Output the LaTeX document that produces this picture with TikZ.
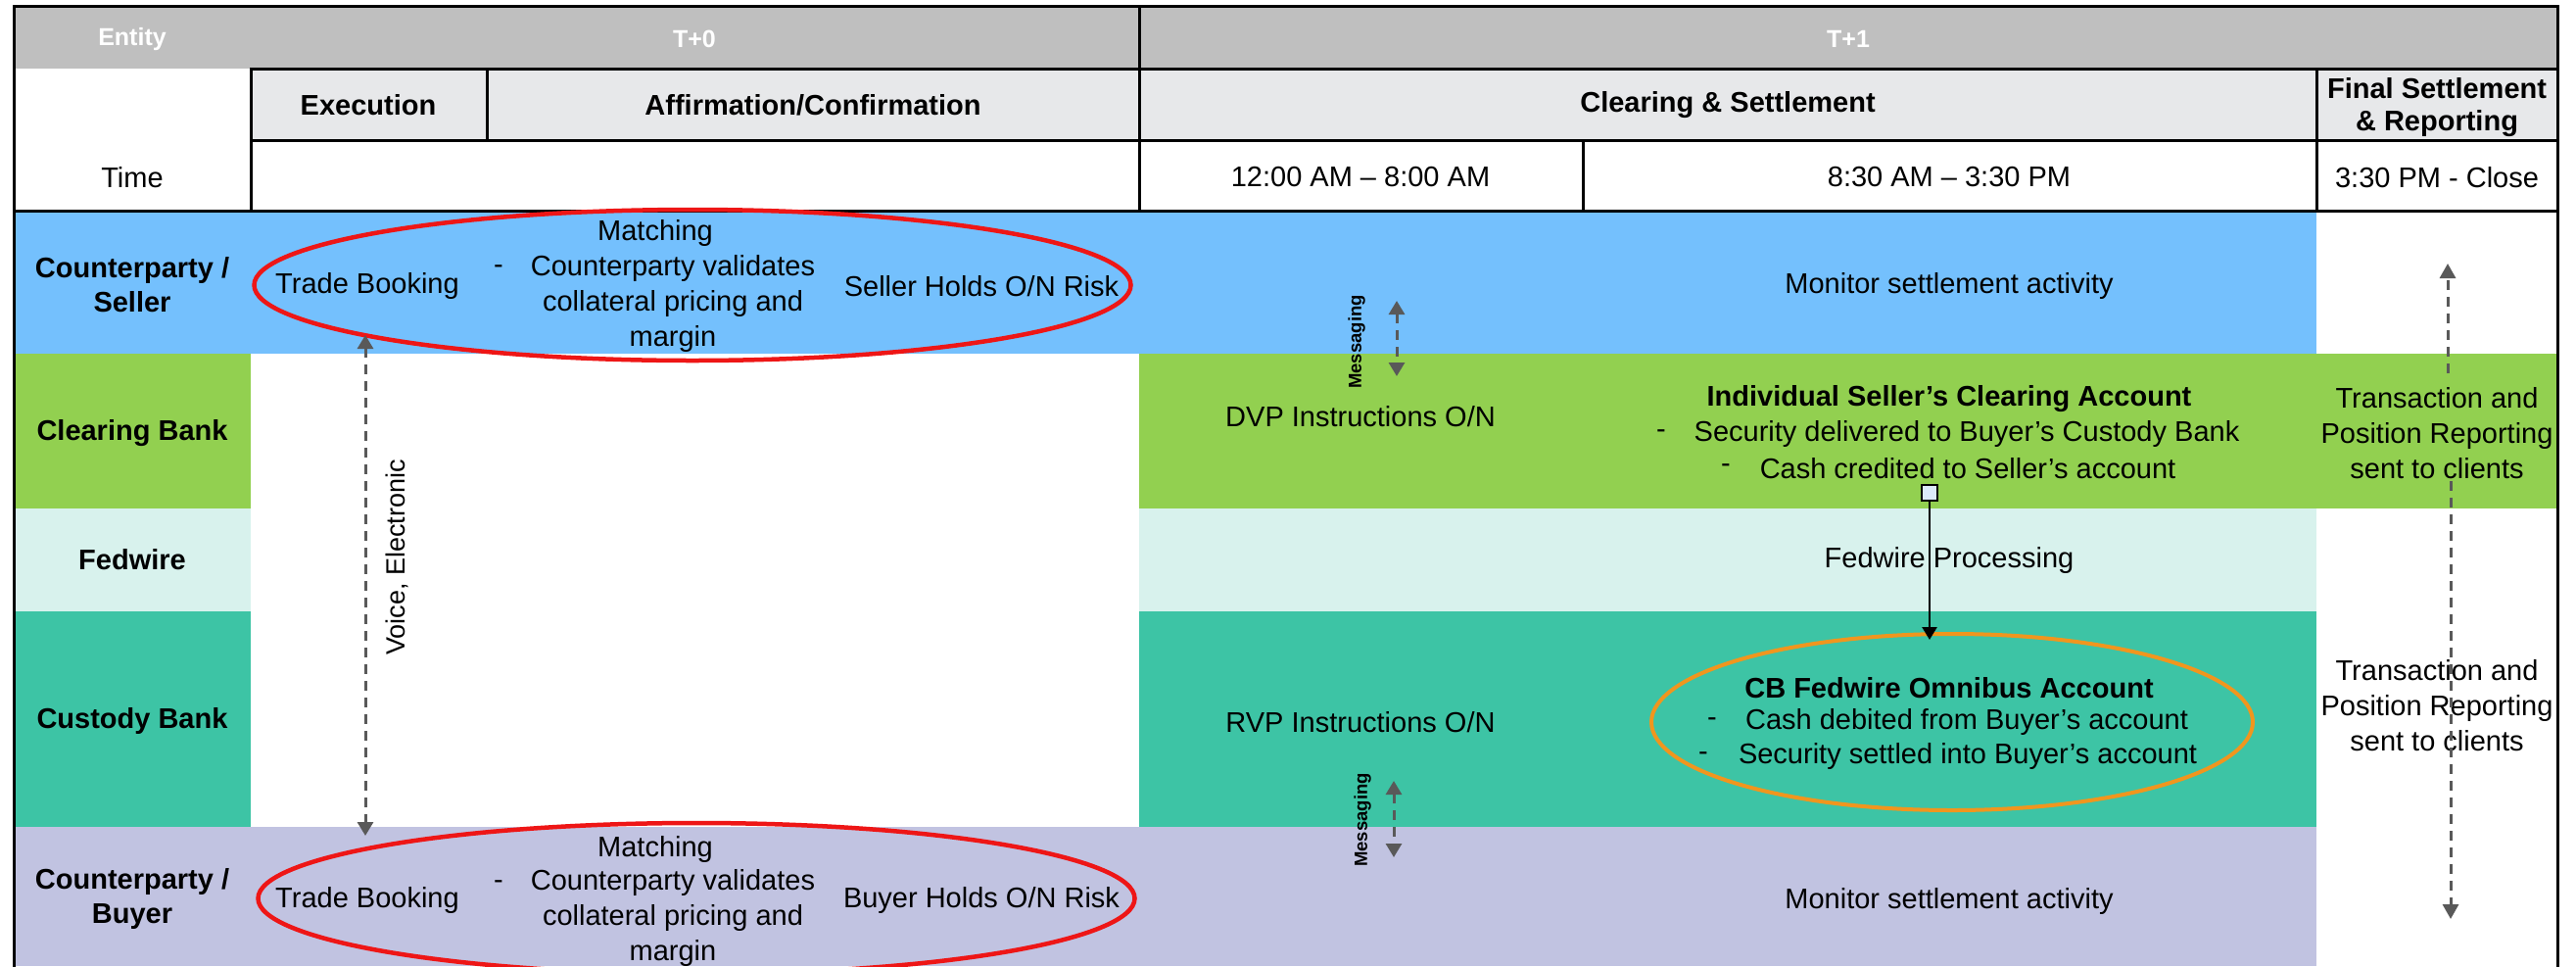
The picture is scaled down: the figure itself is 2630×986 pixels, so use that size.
\documentclass[tikz,border=0pt]{standalone}
\usepackage{fontspec}
\setmainfont{Liberation Sans}
\usetikzlibrary{arrows.meta,shapes.geometric}
\definecolor{hdrgray}{RGB}{191,191,191}
\definecolor{subgray}{RGB}{231,232,234}
\definecolor{sellblue}{RGB}{116,192,253}
\definecolor{clrgreen}{RGB}{146,208,80}
\definecolor{fedlight}{RGB}{216,242,237}
\definecolor{custeal}{RGB}{61,196,165}
\definecolor{buylav}{RGB}{193,195,225}
\definecolor{ellred}{RGB}{238,22,22}
\definecolor{ellorange}{RGB}{240,150,30}
\definecolor{arrgray}{RGB}{89,89,89}
\definecolor{sqfill}{RGB}{220,235,250}
\tikzset{
  grid/.style={line width=3pt, black, line cap=rect},
  hdr/.style={text=white, font=\fontsize{25}{30}\selectfont\bfseries, inner sep=2pt},
  sub/.style={font=\fontsize{29}{33}\selectfont\bfseries, inner sep=2pt, align=center},
  txt/.style={font=\fontsize{29}{36}\selectfont, inner sep=2pt, align=center},
  ent/.style={font=\fontsize{29}{35}\selectfont\bfseries, inner sep=2pt, align=center},
  msg/.style={font=\fontsize{18.5}{22}\selectfont\bfseries, inner sep=1pt},
  voicetxt/.style={font=\fontsize{27}{32}\selectfont, inner sep=1pt},
  redell/.style={ellipse, draw=ellred, line width=4.5pt, minimum width=895pt, minimum height=154pt, inner sep=0pt},
  orell/.style={ellipse, draw=ellorange, line width=4pt, minimum width=614pt, minimum height=180pt, inner sep=0pt},
  sqbox/.style={draw=black, fill=sqfill, line width=2.5pt, minimum size=16pt, inner sep=0pt},
  gdash/.style={draw=arrgray, line width=3pt, dash pattern=on 10pt off 7pt},
  gtip/.style={-{Triangle[width=16pt,length=15pt]}},
  gtips/.style={{Triangle[width=16pt,length=14pt]}-{Triangle[width=16pt,length=14pt]}},
  blkarr/.style={draw=black, line width=2.5pt, -{Triangle[width=15pt,length=13pt]}}
}
\begin{document}
\begin{tikzpicture}[x=1pt,y=-1pt]
\useasboundingbox (0,0) rectangle (2630,986);
\fill[white] (0,0) rectangle (2630,986);
% header fills
\fill[hdrgray] (14,6) rectangle (2611,70);
\fill[subgray] (256,70) rectangle (2611,143);
% body fills
\fill[sellblue] (14,215) rectangle (2365,361);
\fill[clrgreen] (14,361) rectangle (256,519);
\fill[clrgreen] (1163,361) rectangle (2611,519);
\fill[fedlight] (14,519) rectangle (256,624);
\fill[fedlight] (1163,519) rectangle (2365,624);
\fill[custeal] (14,624) rectangle (256,844);
\fill[custeal] (1163,624) rectangle (2365,844);
\fill[buylav] (14,844) rectangle (2365,986);
% grid
\draw[grid] (14,986) -- (14,6) -- (2611,6) -- (2611,986);
\draw[grid] (256,70) -- (2611,70);
\draw[grid] (256,143) -- (2611,143);
\draw[grid] (14,215) -- (2611,215);
\draw[grid] (256,70) -- (256,215);
\draw[grid] (497,70) -- (497,143);
\draw[grid] (1163,6) -- (1163,215);
\draw[grid] (1616,143) -- (1616,215);
\draw[grid] (2365,70) -- (2365,215);
% header texts
\node[hdr] (hEnt) at (135,40) {Entity};
\node[hdr] (hT0) at (709,40) {T+0};
\node[hdr] (hT1) at (1887,40) {T+1};
\node[sub] (sExe) at (376,107) {Execution};
\node[sub] (sAff) at (830,107) {Affirmation/Confirmation};
\node[sub] (sClr) at (1764,107) {Clearing \& Settlement};
\node[sub] (sFin) at (2488,110) {Final Settlement\\\& Reporting};
\node[txt] (tTime) at (135,181) {Time};
\node[txt] (tA) at (1389,181) {12:00 AM – 8:00 AM};
\node[txt] (tB) at (1990,181) {8:30 AM – 3:30 PM};
\node[txt] (tC) at (2488,181) {3:30 PM - Close};
% entity labels
\node[ent] (eSel) at (135,291) {Counterparty /\\Seller};
\node[ent] (eClr) at (135,442) {Clearing Bank};
\node[ent] (eFed) at (135,571) {Fedwire};
\node[ent] (eCus) at (135,736) {Custody Bank};
\node[ent] (eBuy) at (135,917) {Counterparty /\\Buyer};
% seller group
\node[redell] (selEll) at (707,291) {};
\node[txt] (selBook) at (375,292) {Trade Booking};
\node[txt] (selMatch) at (669,238) {Matching};
\node[txt] (selDash) at (509,275) {-};
\node[txt] (selVal) at (687,310) {Counterparty validates\\collateral pricing and\\margin};
\node[txt] (selRisk) at (1002,292) {Seller Holds O/N Risk};
% buyer group
\node[redell] (buyEll) at (711,917) {};
\node[txt] (buyBook) at (375,919) {Trade Booking};
\node[txt] (buyMatch) at (669,867) {Matching};
\node[txt] (buyDash) at (509,903) {-};
\node[txt] (buyVal) at (687,937) {Counterparty validates\\collateral pricing and\\margin};
\node[txt] (buyRisk) at (1002,919) {Buyer Holds O/N Risk};
% T+1 texts
\node[txt] (selMon) at (1990,292) {Monitor settlement activity};
\node[txt] (buyMon) at (1990,920) {Monitor settlement activity};
\node[txt] (dvp) at (1389,425) {DVP Instructions O/N};
\node[txt] (rvp) at (1389,737) {RVP Instructions O/N};
\node[sub] (isca) at (1990,407) {Individual Seller’s Clearing Account};
\node[txt] (iscaD1) at (1696,443) {-};
\node[txt] (iscaL1) at (2008,443) {Security delivered to Buyer’s Custody Bank};
\node[txt] (iscaD2) at (1762,478) {-};
\node[txt] (iscaL2) at (2009,478) {Cash credited to Seller’s account};
\node[txt] (fedp) at (1990,572) {Fedwire Processing};
\node[orell] (omni) at (1993,737) {};
\node[sub] (omT) at (1990,702) {CB Fedwire Omnibus Account};
\node[txt] (omD1) at (1748,737) {-};
\node[txt] (omL1) at (2008,737) {Cash debited from Buyer’s account};
\node[txt] (omD2) at (1739,772) {-};
\node[txt] (omL2) at (2009,772) {Security settled into Buyer’s account};
\node[sqbox] (sq) at (1970,503) {};
\draw[blkarr, shorten >=-8pt] (sq.south) -- (sq.south |- omni.north);
% reporting
\node[txt] (rep1) at (2488,442) {Transaction and\\Position Reporting\\sent to clients};
\node[txt] (rep2) at (2488,720) {Transaction and\\Position Reporting\\sent to clients};
\coordinate (repTop) at (2499,269);
\coordinate (repBot) at (2502,938);
\draw[gdash, gtip, shorten <=12pt] (rep1.north -| repTop) -- (repTop);
\draw[gdash, gtip] (rep1.south -| repBot) -- (repBot);
% voice
\coordinate (vTop) at (373,342);
\coordinate (vBot) at (373,853);
\draw[gdash, gtips] (vTop) -- (vBot);
\node[voicetxt, rotate=90] (voice) at (405,569) {Voice, Electronic};
% messaging
\node[msg, rotate=90] (msg1) at (1385,349) {Messaging};
\coordinate (m1a) at (1426,307);
\coordinate (m1b) at (1426,384);
\draw[gdash, gtips] (m1a) -- (m1b);
\node[msg, rotate=90] (msg2) at (1391,837) {Messaging};
\coordinate (m2a) at (1423,797);
\coordinate (m2b) at (1423,875);
\draw[gdash, gtips] (m2a) -- (m2b);
\end{tikzpicture}
\end{document}
